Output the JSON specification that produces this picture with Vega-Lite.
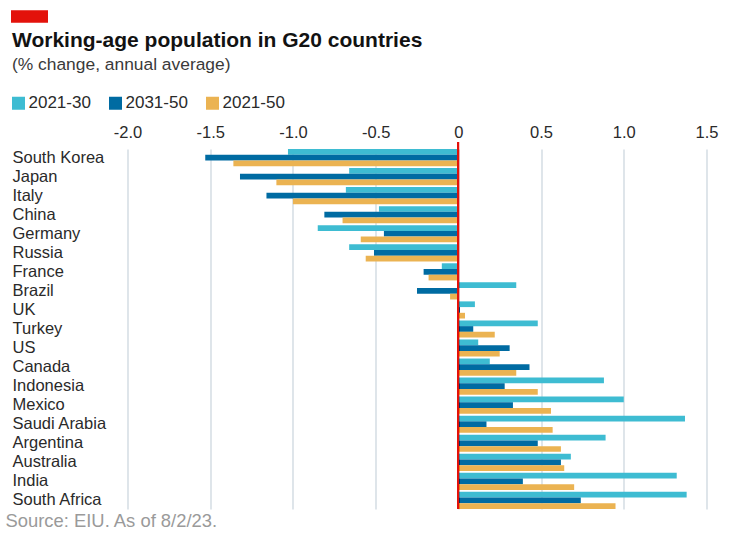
{
  "$schema": "https://vega.github.io/schema/vega-lite/v6.json",
  "width": 579,
  "height": 367,
  "autosize": {"type": "none"},
  "padding": {"left": 127.5, "top": 142, "right": 24.5, "bottom": 29},
  "background": "white",
  "config": {
    "view": {"stroke": null},
    "font": "Liberation Sans"
  },
  "title": {
    "text": "Working-age population in G20 countries",
    "subtitle": "(% change, annual average)",
    "anchor": "start",
    "frame": "group",
    "dx": -115.5,
    "font": "Liberation Sans",
    "fontSize": 21,
    "fontWeight": "bold",
    "color": "#121212",
    "subtitleFont": "Liberation Sans",
    "subtitleFontSize": 17.4,
    "subtitleColor": "#3a3a3a",
    "subtitlePadding": 5,
    "offset": -75
  },
  "data": {
    "values": [
      {"country": "South Korea", "period": "2021-30", "value": -1.03},
      {"country": "South Korea", "period": "2031-50", "value": -1.53},
      {"country": "South Korea", "period": "2021-50", "value": -1.36},
      {"country": "Japan", "period": "2021-30", "value": -0.66},
      {"country": "Japan", "period": "2031-50", "value": -1.32},
      {"country": "Japan", "period": "2021-50", "value": -1.10},
      {"country": "Italy", "period": "2021-30", "value": -0.68},
      {"country": "Italy", "period": "2031-50", "value": -1.16},
      {"country": "Italy", "period": "2021-50", "value": -1.00},
      {"country": "China", "period": "2021-30", "value": -0.48},
      {"country": "China", "period": "2031-50", "value": -0.81},
      {"country": "China", "period": "2021-50", "value": -0.70},
      {"country": "Germany", "period": "2021-30", "value": -0.85},
      {"country": "Germany", "period": "2031-50", "value": -0.45},
      {"country": "Germany", "period": "2021-50", "value": -0.59},
      {"country": "Russia", "period": "2021-30", "value": -0.66},
      {"country": "Russia", "period": "2031-50", "value": -0.51},
      {"country": "Russia", "period": "2021-50", "value": -0.56},
      {"country": "France", "period": "2021-30", "value": -0.10},
      {"country": "France", "period": "2031-50", "value": -0.21},
      {"country": "France", "period": "2021-50", "value": -0.18},
      {"country": "Brazil", "period": "2021-30", "value": 0.35},
      {"country": "Brazil", "period": "2031-50", "value": -0.25},
      {"country": "Brazil", "period": "2021-50", "value": -0.05},
      {"country": "UK", "period": "2021-30", "value": 0.10},
      {"country": "UK", "period": "2031-50", "value": 0.01},
      {"country": "UK", "period": "2021-50", "value": 0.04},
      {"country": "Turkey", "period": "2021-30", "value": 0.48},
      {"country": "Turkey", "period": "2031-50", "value": 0.09},
      {"country": "Turkey", "period": "2021-50", "value": 0.22},
      {"country": "US", "period": "2021-30", "value": 0.12},
      {"country": "US", "period": "2031-50", "value": 0.31},
      {"country": "US", "period": "2021-50", "value": 0.25},
      {"country": "Canada", "period": "2021-30", "value": 0.19},
      {"country": "Canada", "period": "2031-50", "value": 0.43},
      {"country": "Canada", "period": "2021-50", "value": 0.35},
      {"country": "Indonesia", "period": "2021-30", "value": 0.88},
      {"country": "Indonesia", "period": "2031-50", "value": 0.28},
      {"country": "Indonesia", "period": "2021-50", "value": 0.48},
      {"country": "Mexico", "period": "2021-30", "value": 1.00},
      {"country": "Mexico", "period": "2031-50", "value": 0.33},
      {"country": "Mexico", "period": "2021-50", "value": 0.56},
      {"country": "Saudi Arabia", "period": "2021-30", "value": 1.37},
      {"country": "Saudi Arabia", "period": "2031-50", "value": 0.17},
      {"country": "Saudi Arabia", "period": "2021-50", "value": 0.57},
      {"country": "Argentina", "period": "2021-30", "value": 0.89},
      {"country": "Argentina", "period": "2031-50", "value": 0.48},
      {"country": "Argentina", "period": "2021-50", "value": 0.62},
      {"country": "Australia", "period": "2021-30", "value": 0.68},
      {"country": "Australia", "period": "2031-50", "value": 0.62},
      {"country": "Australia", "period": "2021-50", "value": 0.64},
      {"country": "India", "period": "2021-30", "value": 1.32},
      {"country": "India", "period": "2031-50", "value": 0.39},
      {"country": "India", "period": "2021-50", "value": 0.70},
      {"country": "South Africa", "period": "2021-30", "value": 1.38},
      {"country": "South Africa", "period": "2031-50", "value": 0.74},
      {"country": "South Africa", "period": "2021-50", "value": 0.95}
    ]
  },
  "layer": [
    {
      "mark": {"type": "bar", "cornerRadius": 0},
      "encoding": {
        "y": {
          "field": "country",
          "type": "nominal",
          "sort": null,
          "scale": {"range": [7, 367], "paddingInner": 0.1, "paddingOuter": 0},
          "axis": {
            "orient": "left",
            "domain": false,
            "ticks": false,
            "tickSize": 0,
            "grid": false,
            "labelAlign": "left",
            "labelBaseline": "middle",
            "labelPadding": 115.5,
            "labelFont": "Liberation Sans",
            "labelFontSize": 16.5,
            "labelColor": "#2a2a2a",
            "title": "Source: EIU. As of 8/2/23.",
            "titleAngle": 0,
            "titleAlign": "left",
            "titleBaseline": "alphabetic",
            "titleX": -122.5,
            "titleY": 384.7,
            "titleFont": "Liberation Sans",
            "titleFontSize": 18.4,
            "titleFontWeight": "normal",
            "titleColor": "#9a9a9a"
          }
        },
        "yOffset": {
          "field": "period",
          "type": "nominal",
          "sort": ["2021-30", "2031-50", "2021-50"],
          "scale": {"paddingInner": 0, "paddingOuter": 0}
        },
        "x": {
          "field": "value",
          "type": "quantitative",
          "scale": {"domain": [-2, 1.5], "nice": false, "zero": false},
          "axis": {
            "orient": "top",
            "values": [-2, -1.5, -1, -0.5, 0, 0.5, 1, 1.5],
            "labelExpr": "datum.value == 0 ? '0' : (datum.value < 0 ? '-' : '') + format(abs(datum.value), '.1f')",
            "labelFlush": false,
            "labelOverlap": false,
            "domain": false,
            "ticks": false,
            "tickSize": 0,
            "grid": true,
            "gridColor": "#c9d4dc",
            "gridWidth": 1.2,
            "labelPadding": 4.3,
            "labelBaseline": "alphabetic",
            "labelFont": "Liberation Sans",
            "labelFontSize": 16.5,
            "labelColor": "#2a2a2a",
            "title": null
          }
        },
        "color": {
          "field": "period",
          "type": "nominal",
          "scale": {
            "domain": ["2021-30", "2031-50", "2021-50"],
            "range": ["#3EBCD2", "#006BA2", "#EBB352"]
          },
          "legend": {
            "orient": "none",
            "direction": "horizontal",
            "columns": 3,
            "legendX": -117.5,
            "legendY": -47.5,
            "title": null,
            "symbolType": "square",
            "symbolSize": 169,
            "symbolStrokeWidth": 0,
            "symbolOpacity": 1,
            "labelFont": "Liberation Sans",
            "labelFontSize": 17,
            "labelColor": "#2a2a2a",
            "labelOffset": 1.5,
            "columnPadding": 16,
            "padding": 0
          }
        }
      }
    },
    {
      "mark": {"type": "rule", "color": "#E3120B", "strokeWidth": 1.3},
      "encoding": {"x": {"datum": 0}}
    },
    {
      "mark": {"type": "point", "filled": true, "color": "#E3120B", "size": 0},
      "encoding": {
        "x": {"datum": 0},
        "shape": {
          "datum": "brand",
          "type": "nominal",
          "scale": {"range": ["M-1,-0.343H1V0.343H-1Z"]},
          "legend": {
            "orient": "none",
            "legendX": -116.5,
            "legendY": -144,
            "title": null,
            "symbolSize": 1369,
            "symbolFillColor": "#E3120B",
            "symbolStrokeColor": "#E3120B",
            "symbolStrokeWidth": 0,
            "symbolOpacity": 1,
            "labelExpr": "''",
            "labelFontSize": 1,
            "labelOffset": 0,
            "padding": 0
          }
        }
      }
    }
  ]
}
